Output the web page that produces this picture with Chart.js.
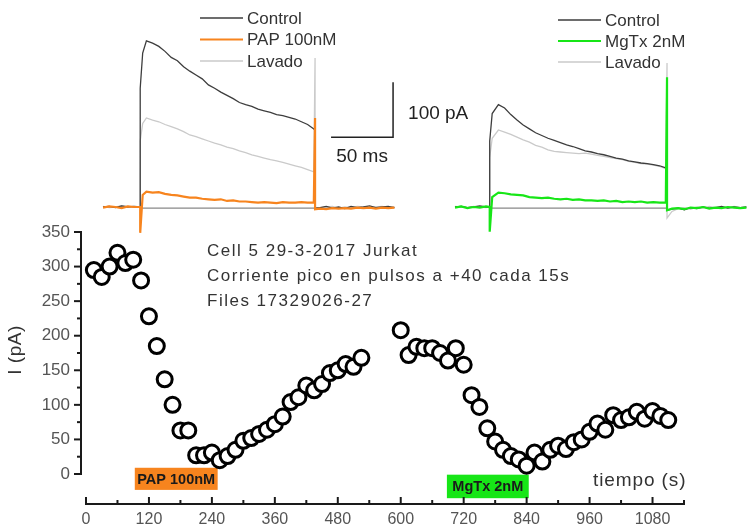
<!DOCTYPE html>
<html>
<head>
<meta charset="utf-8">
<script src="https://cdn.jsdelivr.net/npm/chart.js@4.4.1/dist/chart.umd.min.js"></script>
<style>
  body { margin: 0; background: #fff; }
  #wrap { position: relative; width: 748px; height: 528px; overflow: hidden; }
  canvas { position: absolute; top: 0; }
</style>
</head>
<body>
<div id="wrap">
  <canvas id="main" width="748" height="528" style="left:0"></canvas>
  <canvas id="trace1" width="380" height="240" style="left:100px"></canvas>
  <canvas id="trace2" width="298" height="240" style="left:450px"></canvas>
</div>
<script>
// ---- peak current time course (s, pA) ----
const timeA = [15, 30, 45, 60, 75, 90, 105, 120, 135, 150, 165, 180, 195, 210, 225, 240, 255, 270, 285, 300,
  315, 330, 345, 360, 375, 390, 405, 420, 435, 450, 465, 480, 495, 510, 525];
const currentA = [295, 285, 300, 320, 305, 310, 280, 228, 185, 137, 100, 63, 63, 27, 27, 31, 20, 26, 35, 48,
  52, 58, 64, 72, 83, 104, 111, 128, 121, 130, 146, 150, 159, 155, 168];
const timeB = [600, 615, 630, 645, 660, 675, 690, 705, 720, 735, 750, 765, 780, 795, 810, 825, 840, 855, 870, 885,
  900, 915, 930, 945, 960, 975, 990, 1005, 1020, 1035, 1050, 1065, 1080, 1095, 1110];
const currentB = [208, 172, 184, 182, 182, 175, 164, 182, 158, 114, 97, 66, 47, 35, 26, 21, 12, 31, 18, 35,
  41, 36, 46, 50, 61, 73, 64, 85, 78, 82, 90, 80, 91, 84, 78];

const xTicks = [0, 120, 240, 360, 480, 600, 720, 840, 960, 1080];
const yTicks = [0, 50, 100, 150, 200, 250, 300, 350];

// drug applications (s)
const drugNames = ['PAP 100nM', 'MgTx 2nM'];
const drugStart = [93, 688];
const drugEnd = [251, 844];
const drugColors = ['#f7841e', '#17e617'];

const noteLines = ['Cell 5 29-3-2017 Jurkat', 'Corriente pico en pulsos a +40 cada 15s', 'Files 17329026-27'];

// ---- current traces (ms, pA) ----
const traceTime1 = [0, 5, 10, 15, 20, 25, 30, 30, 32, 35, 40, 45, 50, 55, 60, 65, 70, 75, 80, 85, 90, 95, 100,
  105, 110, 115, 120, 125, 130, 135, 140, 145, 150, 155, 160, 165, 170, 171, 171, 175, 180, 185, 190, 195, 200,
  205, 210, 215, 220, 225, 230, 235];
const control1 = [0, 1, -1, 2, 0, 1, 0, 216, 280, 302, 298, 292, 283, 272, 266, 255, 247, 240, 233, 222, 216, 209, 203,
  197, 190, 186, 183, 178, 175, 172, 168, 166, 163, 160, 155, 150, 142, 140, -2, -1, 1, -2, 0, -3, 1,
  -1, 0, 2, -1, 0, 1, -1];
const pap1 = [-1, 1, 0, -2, 1, 0, 0, -47, 22, 28, 26, 27, 24, 22, 21, 19, 17, 17, 15, 14, 13, 14, 11,
  12, 10, 10, 9, 8, 9, 8, 7, 9, 8, 8, 9, 8, 8, 162, -4, -3, -4, -2, -3, -2, -3,
  -1, -2, -1, -3, -1, -2, -1];
const lavado1 = [1, -1, 0, 2, 1, 0, 0, 120, 152, 162, 158, 155, 150, 146, 142, 137, 131, 128, 124, 120, 116, 113, 109,
  106, 102, 99, 95, 92, 89, 86, 84, 81, 78, 75, 72, 68, 64, 271, -2, -1, 0, 1, -2, 0, -1,
  1, 0, -1, 0, 1, -1, 0];

const traceTime2 = [0, 5, 10, 15, 20, 25, 28, 28, 30, 35, 40, 45, 50, 55, 60, 65, 70, 75, 80, 85, 90, 95, 100,
  105, 110, 115, 120, 125, 130, 135, 140, 145, 150, 155, 160, 165, 170, 171, 171, 175, 180, 185, 190, 195, 200,
  205, 210, 215, 220, 225, 230, 235];
const control2 = [0, 1, -1, 0, 2, 0, 0, 120, 170, 186, 180, 168, 158, 149, 142, 135, 130, 125, 121, 117, 113, 110, 106,
  102, 100, 97, 95, 92, 89, 87, 84, 82, 80, 79, 77, 75, 71, 70, -6, -4, -2, -5, -1, -3, 0,
  -2, -1, 1, -2, 0, -1, 0];
const mgtx2 = [-1, 1, -2, 0, -1, 1, 0, -45, 18, 26, 25, 23, 22, 21, 18, 17, 16, 17, 15, 14, 15, 13, 14,
  12, 12, 11, 12, 10, 11, 9, 10, 9, 10, 8, 9, 8, 8, 236, -6, -3, -2, -4, -1, -2, 0,
  -3, -1, -2, 0, -1, -2, -1];
const lavado2 = [1, 0, -1, 1, 0, -1, 0, 90, 125, 140, 136, 132, 127, 122, 118, 112, 109, 104, 101, 100, 99, 98, 97,
  98, 96, 94, 92, 90, 88, 86, 83, 81, 79, 78, 76, 74, 70, 262, -20, -8, -3, -1, -4, 0, -2,
  1, -1, 0, -2, 1, -1, 0];

// holding level drawn under each pulse
const zeroTime1 = [30, 171];
const zeroTime2 = [28, 171];
const zeroLevel = [-2, -2];

const FONT = '"Liberation Sans", Arial, sans-serif';
Chart.defaults.font.family = FONT;

function pts(xs, ys) {
  return xs.map((v, i) => ({ x: v, y: ys[i] }));
}

function noPad(s) {
  s.paddingTop = 0; s.paddingBottom = 0; s.paddingLeft = 0; s.paddingRight = 0;
}

// axes, drug bars and text of the main plot
const figurePlugin = {
  id: 'figure',
  beforeDatasetsDraw(chart) {
    const { ctx, scales: { x, y } } = chart;
    ctx.save();
    drugNames.forEach((name, i) => {
      const lv = chart.options.plugins.figure.barLevels[i];
      const x0 = x.getPixelForValue(drugStart[i]);
      const x1 = x.getPixelForValue(drugEnd[i]);
      const y0 = y.getPixelForValue(lv[1]);
      const y1 = y.getPixelForValue(lv[0]);
      ctx.fillStyle = drugColors[i];
      ctx.fillRect(x0, y0, x1 - x0, y1 - y0);
      ctx.fillStyle = '#1a1a1a';
      ctx.font = 'bold 14.5px ' + FONT;
      ctx.textAlign = 'center';
      ctx.textBaseline = 'middle';
      ctx.fillText(name, (x0 + x1) / 2, (y0 + y1) / 2 + 1);
    });
    ctx.restore();
  },
  afterDraw(chart) {
    const { ctx, chartArea, scales: { x, y } } = chart;
    ctx.save();
    ctx.strokeStyle = '#1a1a1a';
    ctx.lineWidth = 2;
    const line = (a, b, c, d) => { ctx.beginPath(); ctx.moveTo(a, b); ctx.lineTo(c, d); ctx.stroke(); };

    // y axis, ticks outward
    const ax = chartArea.left;
    line(ax, y.getPixelForValue(0) + 1, ax, y.getPixelForValue(350) - 1);
    yTicks.forEach((v, i) => {
      const p = y.getPixelForValue(v);
      line(ax - 7, p, ax, p);
      if (i < yTicks.length - 1) {
        const m = y.getPixelForValue(v + 25);
        line(ax - 4, m, ax, m);
      }
    });

    // x axis, ticks inward
    const ay = chartArea.bottom;
    line(x.getPixelForValue(0) - 1, ay, x.getPixelForValue(1140) + 1, ay);
    xTicks.forEach(v => {
      const p = x.getPixelForValue(v);
      line(p, ay, p, ay - 7);
      const m = x.getPixelForValue(v + 60);
      line(m, ay, m, ay - 4);
    });

    // notes
    ctx.fillStyle = '#333';
    ctx.textAlign = 'left';
    ctx.textBaseline = 'middle';
    ctx.font = '17px ' + FONT;
    ctx.letterSpacing = '1.5px';
    noteLines.forEach((t, i) => ctx.fillText(t, 207, 251 + i * 25));

    ctx.font = '19px ' + FONT;
    ctx.letterSpacing = '0.9px';
    ctx.fillText('tiempo (s)', 593, 481);

    ctx.letterSpacing = '0.5px';
    ctx.translate(16, 350);
    ctx.rotate(-Math.PI / 2);
    ctx.textAlign = 'center';
    ctx.fillText('I (pA)', 0, 0);
    ctx.restore();
  }
};

new Chart(document.getElementById('main'), {
  type: 'scatter',
  data: {
    datasets: [
      { data: pts(timeA, currentA) },
      { data: pts(timeB, currentB) }
    ]
  },
  options: {
    responsive: false,
    animation: false,
    events: [],
    layout: { padding: { top: 232, right: 64, left: 0, bottom: 0 } },
    elements: {
      point: { radius: 7.5, borderWidth: 3, borderColor: '#000', backgroundColor: '#fff' }
    },
    scales: {
      x: {
        type: 'linear',
        min: -9.53,
        max: 1140,
        grid: { display: false, drawTicks: false },
        border: { display: false },
        afterBuildTicks: s => { s.ticks = xTicks.map(v => ({ value: v })); },
        afterFit: s => { s.height = 24; noPad(s); },
        ticks: { color: '#555', font: { size: 16 }, padding: 6, callback: v => String(v) }
      },
      y: {
        min: -43.4,
        max: 350,
        grid: { display: false, drawTicks: false },
        border: { display: false },
        afterBuildTicks: s => { s.ticks = yTicks.map(v => ({ value: v })); },
        afterFit: s => { s.width = 81; noPad(s); },
        ticks: { color: '#555', font: { size: 17 }, padding: 11, callback: v => String(v) }
      }
    },
    plugins: {
      legend: { display: false },
      tooltip: { enabled: false },
      figure: { barLevels: [[-23, 9], [-35, -1]] }
    }
  },
  plugins: [figurePlugin]
});

// legend rows and scale bar of the trace insets
const tracePlugin = {
  id: 'traceDecor',
  afterDatasetsDraw(chart, args, opts) {
    const { ctx, scales: { x, y } } = chart;
    ctx.save();
    ctx.font = '17px ' + FONT;
    ctx.textBaseline = 'middle';
    ctx.textAlign = 'left';
    chart.data.datasets.forEach((ds, i) => {
      if (!ds.label) return;
      const row = opts.legendTop + i * opts.legendGap;
      ctx.strokeStyle = ds.borderColor;
      ctx.lineWidth = ds.borderWidth;
      ctx.beginPath();
      ctx.moveTo(opts.legendX, row);
      ctx.lineTo(opts.legendX + 43, row);
      ctx.stroke();
      ctx.fillStyle = '#333';
      ctx.fillText(ds.label, opts.legendX + 47, row + 1);
    });
    const sb = opts.scaleBar;
    if (sb) {
      const cx = x.getPixelForValue(sb.t), cy = y.getPixelForValue(sb.i);
      const lx = x.getPixelForValue(sb.t - sb.dt), ty = y.getPixelForValue(sb.i + sb.di);
      ctx.strokeStyle = '#222';
      ctx.lineWidth = 1.5;
      ctx.beginPath();
      ctx.moveTo(lx, cy); ctx.lineTo(cx, cy); ctx.lineTo(cx, ty);
      ctx.stroke();
      ctx.fillStyle = '#222';
      ctx.font = '19px ' + FONT;
      ctx.fillText(sb.di + ' pA', cx + 15, (cy + ty) / 2 + 4);
      ctx.textAlign = 'center';
      ctx.fillText(sb.dt + ' ms', (lx + cx) / 2, cy + 20);
    }
    ctx.restore();
  }
};

function traceChart(id, t, control, drug, lavado, zeroT, drugLabel, drugColor, xMin, xMax, deco) {
  return new Chart(document.getElementById(id), {
    type: 'line',
    data: {
      datasets: [
        { label: 'Control', data: pts(t, control), borderColor: '#3d3d3d', borderWidth: 1.3, order: 1 },
        { label: drugLabel, data: pts(t, drug), borderColor: drugColor, borderWidth: 2.2, order: 0 },
        { label: 'Lavado', data: pts(t, lavado), borderColor: '#cacaca', borderWidth: 1.3, order: 2 },
        { data: pts(zeroT, zeroLevel), borderColor: '#888', borderWidth: 1.2, order: 3 }
      ]
    },
    options: {
      responsive: false,
      animation: false,
      events: [],
      layout: { padding: 0 },
      elements: { point: { radius: 0 }, line: { tension: 0 } },
      scales: {
        x: { type: 'linear', display: false, min: xMin, max: xMax },
        y: { display: false, min: -60, max: 376.4 }
      },
      plugins: {
        legend: { display: false },
        tooltip: { enabled: false },
        traceDecor: deco
      }
    },
    plugins: [tracePlugin]
  });
}

traceChart('trace1', traceTime1, control1, pap1, lavado1, zeroTime1, 'PAP 100nM', '#f7841e', -2.42, 304.0,
  { legendX: 100, legendTop: 18, legendGap: 21.5, scaleBar: { t: 233.9, i: 127, dt: 50, di: 100 } });
traceChart('trace2', traceTime2, control2, mgtx2, lavado2, zeroTime2, 'MgTx 2nM', '#17e617', -4.03, 236.3,
  { legendX: 108, legendTop: 20, legendGap: 21 });
</script>
</body>
</html>
